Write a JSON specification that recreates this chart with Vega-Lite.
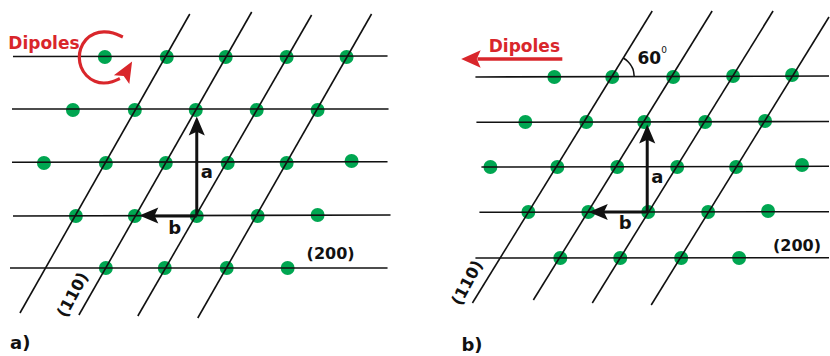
{
  "$schema": "https://vega.github.io/schema/vega-lite/v6.json",
  "width": 830,
  "height": 356,
  "autosize": {"type": "fit", "contains": "padding"},
  "padding": 0,
  "background": "white",
  "config": {
    "view": {"stroke": null},
    "text": {"font": "DejaVu Sans", "fontWeight": "bold"}
  },
  "datasets": {
    "gridlines": [
      {"x": 13, "y": 56.5, "x2": 388, "y2": 56},
      {"x": 12, "y": 109, "x2": 389, "y2": 109},
      {"x": 12, "y": 162.3, "x2": 388, "y2": 161.7},
      {"x": 13, "y": 216, "x2": 391, "y2": 215},
      {"x": 10, "y": 268, "x2": 388, "y2": 268},
      {"x": 190, "y": 14, "x2": 20, "y2": 313},
      {"x": 252, "y": 12, "x2": 79, "y2": 315},
      {"x": 312, "y": 15, "x2": 138, "y2": 316},
      {"x": 372, "y": 14, "x2": 198, "y2": 318},
      {"x": 476, "y": 77, "x2": 830, "y2": 76},
      {"x": 477, "y": 122.3, "x2": 830, "y2": 121.5},
      {"x": 482, "y": 167, "x2": 830, "y2": 166.3},
      {"x": 480, "y": 212.3, "x2": 830, "y2": 211.7},
      {"x": 476, "y": 258, "x2": 830, "y2": 257.7},
      {"x": 653, "y": 11, "x2": 473, "y2": 303},
      {"x": 713, "y": 11, "x2": 534, "y2": 300},
      {"x": 774, "y": 11, "x2": 593, "y2": 303},
      {"x": 830, "y": 17, "x2": 652, "y2": 305}
    ],
    "atoms": [
      {"x": 105, "y": 57}, {"x": 167, "y": 57}, {"x": 226, "y": 57}, {"x": 287, "y": 57}, {"x": 347, "y": 57},
      {"x": 73, "y": 110}, {"x": 135, "y": 110}, {"x": 196, "y": 110}, {"x": 257, "y": 110}, {"x": 318, "y": 110},
      {"x": 44, "y": 163}, {"x": 106, "y": 163}, {"x": 166, "y": 163}, {"x": 228, "y": 163}, {"x": 287, "y": 163}, {"x": 352, "y": 161},
      {"x": 76, "y": 216}, {"x": 135, "y": 216}, {"x": 197, "y": 216}, {"x": 258, "y": 216}, {"x": 318, "y": 215},
      {"x": 106, "y": 268}, {"x": 165, "y": 268}, {"x": 227, "y": 268}, {"x": 288, "y": 268},
      {"x": 555, "y": 77}, {"x": 613, "y": 77}, {"x": 674, "y": 77}, {"x": 734, "y": 76}, {"x": 793, "y": 75},
      {"x": 526, "y": 122}, {"x": 587, "y": 122}, {"x": 645, "y": 122}, {"x": 706, "y": 122}, {"x": 766, "y": 121},
      {"x": 491, "y": 167}, {"x": 558, "y": 167}, {"x": 618, "y": 167}, {"x": 678, "y": 167}, {"x": 737, "y": 167}, {"x": 803, "y": 165},
      {"x": 529, "y": 212}, {"x": 589, "y": 212}, {"x": 649, "y": 212}, {"x": 709, "y": 212}, {"x": 769, "y": 211},
      {"x": 561, "y": 258}, {"x": 621, "y": 258}, {"x": 682, "y": 258}, {"x": 740, "y": 258}
    ],
    "vectorShafts": [
      {"x": 197, "y": 216, "x2": 197, "y2": 128},
      {"x": 197, "y": 216, "x2": 152, "y2": 216},
      {"x": 648, "y": 212, "x2": 648, "y2": 135},
      {"x": 648, "y": 212, "x2": 601, "y2": 212}
    ],
    "headsUp": [
      {"x": 197, "y": 126},
      {"x": 648, "y": 134}
    ],
    "headsLeft": [
      {"x": 149, "y": 215.5},
      {"x": 599, "y": 212}
    ],
    "rotation": [
      {"i": 0, "x": 123, "y": 37},
      {"i": 1, "x": 113, "y": 32.5},
      {"i": 2, "x": 104, "y": 31.5},
      {"i": 3, "x": 94.5, "y": 33},
      {"i": 4, "x": 85.5, "y": 39},
      {"i": 5, "x": 80, "y": 49},
      {"i": 6, "x": 79, "y": 58},
      {"i": 7, "x": 80.5, "y": 67},
      {"i": 8, "x": 86, "y": 76},
      {"i": 9, "x": 95, "y": 82},
      {"i": 10, "x": 104, "y": 83.5},
      {"i": 11, "x": 112.6, "y": 82},
      {"i": 12, "x": 120, "y": 78.5}
    ],
    "rotationHead": [{"x": 127, "y": 70.5}],
    "dipoleShaft": [{"x": 563, "y": 59, "x2": 478, "y2": 59}],
    "dipoleHead": [{"x": 471.5, "y": 59}],
    "angleArc": [
      {"i": 0, "x": 635, "y": 77},
      {"i": 1, "x": 634.3, "y": 71.3},
      {"i": 2, "x": 632.1, "y": 66},
      {"i": 3, "x": 628.6, "y": 61.4},
      {"i": 4, "x": 624, "y": 58}
    ],
    "dipoleLabels": [
      {"x": 44, "y": 49, "text": "Dipoles"},
      {"x": 525, "y": 52, "text": "Dipoles"}
    ],
    "vectorLabels": [
      {"x": 207, "y": 178, "text": "a"},
      {"x": 175, "y": 234, "text": "b"},
      {"x": 658, "y": 183, "text": "a"},
      {"x": 626, "y": 229, "text": "b"}
    ],
    "planeLabels": [
      {"x": 331, "y": 254, "text": "(200)"},
      {"x": 798, "y": 246, "text": "(200)"}
    ],
    "slantLabels": [
      {"x": 73, "y": 295, "text": "(110)"},
      {"x": 468, "y": 283, "text": "(110)"}
    ],
    "panelLabels": [
      {"x": 10, "y": 349, "text": "a)"},
      {"x": 462, "y": 351, "text": "b)"}
    ],
    "angleLabel": [{"x": 650, "y": 64, "text": "60"}],
    "angleUnit": [{"x": 665, "y": 50, "text": "0"}]
  },
  "encoding": {
    "x": {"field": "x", "type": "quantitative", "axis": null, "scale": {"domain": [0, 830], "nice": false, "zero": false}},
    "y": {"field": "y", "type": "quantitative", "axis": null, "scale": {"domain": [0, 356], "nice": false, "zero": false, "reverse": true}}
  },
  "layer": [
    {
      "data": {"name": "atoms"},
      "mark": {"type": "circle", "size": 195, "color": "#00a651", "opacity": 1}
    },
    {
      "data": {"name": "gridlines"},
      "mark": {"type": "rule", "stroke": "#111111", "strokeWidth": 1.6},
      "encoding": {"x2": {"field": "x2"}, "y2": {"field": "y2"}}
    },
    {
      "data": {"name": "vectorShafts"},
      "mark": {"type": "rule", "stroke": "#111111", "strokeWidth": 3},
      "encoding": {"x2": {"field": "x2"}, "y2": {"field": "y2"}}
    },
    {
      "data": {"name": "headsUp"},
      "mark": {"type": "point", "shape": "M0,-1L0.85,1L0,0.6L-0.85,1Z", "filled": true, "size": 361, "color": "#111111", "opacity": 1, "strokeWidth": 0}
    },
    {
      "data": {"name": "headsLeft"},
      "mark": {"type": "point", "shape": "M0,-1L0.85,1L0,0.6L-0.85,1Z", "filled": true, "size": 361, "angle": 270, "color": "#111111", "opacity": 1, "strokeWidth": 0}
    },
    {
      "data": {"name": "rotation"},
      "mark": {"type": "line", "stroke": "#d9262b", "strokeWidth": 3.2, "interpolate": "basis"},
      "encoding": {"order": {"field": "i", "type": "quantitative"}}
    },
    {
      "data": {"name": "rotationHead"},
      "mark": {"type": "point", "shape": "M0,-1L0.85,1L0,0.6L-0.85,1Z", "filled": true, "size": 440, "angle": 30, "color": "#d9262b", "opacity": 1, "strokeWidth": 0}
    },
    {
      "data": {"name": "dipoleShaft"},
      "mark": {"type": "rule", "stroke": "#d9262b", "strokeWidth": 3.5},
      "encoding": {"x2": {"field": "x2"}, "y2": {"field": "y2"}}
    },
    {
      "data": {"name": "dipoleHead"},
      "mark": {"type": "point", "shape": "M0,-1L0.9,1L0,0.6L-0.9,1Z", "filled": true, "size": 380, "angle": 270, "color": "#d9262b", "opacity": 1, "strokeWidth": 0}
    },
    {
      "data": {"name": "angleArc"},
      "mark": {"type": "line", "stroke": "#111111", "strokeWidth": 1.5, "interpolate": "monotone"},
      "encoding": {"order": {"field": "i", "type": "quantitative"}}
    },
    {
      "data": {"name": "dipoleLabels"},
      "mark": {"type": "text", "fontSize": 17, "color": "#d9262b", "align": "center", "baseline": "alphabetic"},
      "encoding": {"text": {"field": "text"}}
    },
    {
      "data": {"name": "vectorLabels"},
      "mark": {"type": "text", "fontSize": 18, "color": "#111111", "align": "center", "baseline": "alphabetic"},
      "encoding": {"text": {"field": "text"}}
    },
    {
      "data": {"name": "planeLabels"},
      "mark": {"type": "text", "fontSize": 16, "color": "#111111", "align": "center", "baseline": "middle"},
      "encoding": {"text": {"field": "text"}}
    },
    {
      "data": {"name": "slantLabels"},
      "mark": {"type": "text", "fontSize": 16, "color": "#111111", "align": "center", "baseline": "middle", "angle": -62},
      "encoding": {"text": {"field": "text"}}
    },
    {
      "data": {"name": "panelLabels"},
      "mark": {"type": "text", "fontSize": 18, "color": "#111111", "align": "left", "baseline": "alphabetic"},
      "encoding": {"text": {"field": "text"}}
    },
    {
      "data": {"name": "angleLabel"},
      "mark": {"type": "text", "fontSize": 17, "color": "#111111", "align": "center", "baseline": "alphabetic"},
      "encoding": {"text": {"field": "text"}}
    },
    {
      "data": {"name": "angleUnit"},
      "mark": {"type": "text", "fontSize": 9, "fontWeight": "normal", "color": "#111111", "align": "center", "baseline": "middle"},
      "encoding": {"text": {"field": "text"}}
    }
  ]
}
